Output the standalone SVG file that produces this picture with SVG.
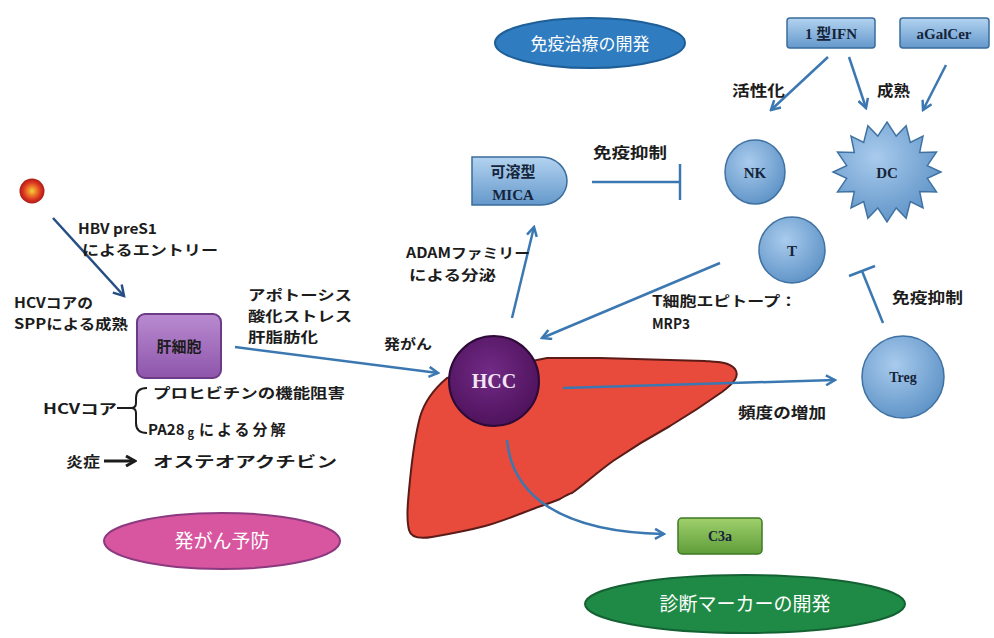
<svg xmlns="http://www.w3.org/2000/svg" width="994" height="638" viewBox="0 0 994 638">
  <style>
    .lbl { font-family: "Noto Sans CJK JP", "Liberation Sans", sans-serif; font-weight: bold; font-size: 14px; fill: #1c1c1c; }
    .ntx { font-family: "Liberation Serif", "Noto Sans CJK JP", serif; font-weight: bold; font-size: 15px; fill: #15243a; text-anchor: middle; }
    .ttl { font-family: "Noto Sans CJK JP", sans-serif; font-size: 18px; fill: #ffffff; text-anchor: middle; }
    .cell { fill: url(#cellGrad); stroke: #3f72a3; stroke-width: 1.5; }
    .box { fill: url(#boxGrad); stroke: #3a6c9c; stroke-width: 1.5; }
    .conn { fill: none; stroke: #3b78b2; stroke-width: 2.5; }
    .dark { fill: none; stroke: #1c1c1c; stroke-width: 2; }
  </style>
  <defs>
    <linearGradient id="boxGrad" x1="0" y1="0" x2="0" y2="1">
      <stop offset="0" stop-color="#b3d3f0"/>
      <stop offset="1" stop-color="#6498cb"/>
    </linearGradient>
    <radialGradient id="cellGrad" cx="0.4" cy="0.35" r="0.7">
      <stop offset="0" stop-color="#a9cbed"/>
      <stop offset="1" stop-color="#5d92c6"/>
    </radialGradient>
    <radialGradient id="hccGrad" cx="0.45" cy="0.4" r="0.65">
      <stop offset="0" stop-color="#722a86"/>
      <stop offset="1" stop-color="#4c1159"/>
    </radialGradient>
    <linearGradient id="hepGrad" x1="0" y1="0" x2="0" y2="1">
      <stop offset="0" stop-color="#b98bd0"/>
      <stop offset="1" stop-color="#8e55ab"/>
    </linearGradient>
    <linearGradient id="c3aGrad" x1="0" y1="0" x2="0" y2="1">
      <stop offset="0" stop-color="#9fd06c"/>
      <stop offset="1" stop-color="#5f9d39"/>
    </linearGradient>
    <radialGradient id="virusGrad" cx="0.5" cy="0.5" r="0.5">
      <stop offset="0" stop-color="#f3d23a"/>
      <stop offset="0.3" stop-color="#ee8a2a"/>
      <stop offset="0.7" stop-color="#dc3422"/>
      <stop offset="1" stop-color="#a81c14"/>
    </radialGradient>
    <marker id="ah" markerWidth="12" markerHeight="12" refX="10" refY="6" orient="auto" markerUnits="userSpaceOnUse">
      <path d="M1,1 L10,6 L1,11" fill="none" stroke="#3b78b2" stroke-width="2.5"/>
    </marker>
    <marker id="ahDark" markerWidth="14" markerHeight="14" refX="11" refY="7" orient="auto" markerUnits="userSpaceOnUse">
      <path d="M1,1 L11,7 L1,13" fill="none" stroke="#264f86" stroke-width="2.5"/>
    </marker>
    <marker id="ahBlack" markerWidth="12" markerHeight="12" refX="10" refY="6" orient="auto" markerUnits="userSpaceOnUse">
      <path d="M1,1 L10,6 L1,11" fill="none" stroke="#1c1c1c" stroke-width="3"/>
    </marker>
  </defs>

  <rect width="994" height="638" fill="#ffffff"/>

  <!-- liver outline sits under the HCC node -->
  <g id="liver">
    <path d="M447,378 C435,388 425,400 420,417 C414,440 412,460 410,480 C408,500 406,518 409,530 C411,538 420,539 432,537 C455,533 470,530 485,526 C500,522 512,517 525,512 C538,507 550,503 560,499 C565,496 568,494 572,493 C580,488 595,474 613,461 C632,448 650,437 670,426 C690,414 708,402 722,392 C734,383 740,376 735,369 C729,362 718,362 705,361 L600,358 L547,358 Z" fill="#e84a3b" stroke="#5a1c18" stroke-width="2"/>
  </g>

  <g id="connectors">
    <!-- virus entry -->
    <line x1="53" y1="218" x2="124" y2="296" stroke="#264f86" stroke-width="2.5" marker-end="url(#ahDark)"/>
    <!-- hepatocyte to HCC -->
    <line x1="235" y1="347" x2="438" y2="373" class="conn" marker-end="url(#ah)"/>
    <!-- HCC to MICA -->
    <line x1="512" y1="318" x2="534" y2="227" class="conn" marker-end="url(#ah)"/>
    <!-- MICA inhibits NK -->
    <line x1="592" y1="182" x2="680" y2="182" class="conn"/>
    <line x1="680" y1="164" x2="680" y2="200" class="conn"/>
    <!-- T to HCC -->
    <line x1="720" y1="263" x2="542" y2="338" class="conn" marker-end="url(#ah)"/>
    <!-- type I IFN / aGalCer activation -->
    <line x1="828" y1="57" x2="771" y2="110" class="conn" marker-end="url(#ah)"/>
    <line x1="849" y1="57" x2="866" y2="108" class="conn" marker-end="url(#ah)"/>
    <line x1="946" y1="65" x2="923" y2="110" class="conn" marker-end="url(#ah)"/>
    <!-- Treg inhibits T -->
    <line x1="883" y1="323" x2="862" y2="271" class="conn"/>
    <line x1="849" y1="276" x2="875" y2="266" class="conn"/>
    <!-- HCC to Treg -->
    <line x1="563" y1="388" x2="835" y2="380" class="conn" marker-end="url(#ah)"/>
    <!-- HCC to C3a -->
    <path d="M507,440 C512,495 560,532 664,534" class="conn" marker-end="url(#ah)"/>
    <!-- HCV core brace -->
    <line x1="117" y1="408" x2="132" y2="408" class="dark"/>
    <path d="M147,388 Q136,388 136,398 L136,403 Q136,408 131,408 Q136,408 136,413 L136,423 Q136,433 147,433" class="dark"/>
    <!-- inflammation arrow -->
    <line x1="104" y1="461" x2="135" y2="461" stroke="#1c1c1c" stroke-width="3" marker-end="url(#ahBlack)"/>
  </g>

  <g id="virus">
    <circle cx="32" cy="191" r="12.5" fill="url(#virusGrad)"/>
  </g>

  <g id="hepatocyte">
    <rect x="137" y="314" width="84" height="64" rx="8" fill="url(#hepGrad)" stroke="#6c3a86" stroke-width="2"/>
    <text x="179" y="352" class="lbl" text-anchor="middle" fill="#2a1030" style="font-size:15px">肝細胞</text>
  </g>

  <g id="hcc">
    <circle cx="494" cy="381" r="45" fill="url(#hccGrad)" stroke="#2e0a38" stroke-width="2"/>
    <text x="494" y="388" class="ntx" style="font-size:20px;fill:#f2e6f2">HCC</text>
  </g>

  <g id="mica">
    <path d="M472,157 H541 C556,157 567,168 567,181 C567,194 556,205 541,205 H472 Z" class="box"/>
    <text x="513" y="177" class="ntx" style="font-family:'Noto Sans CJK JP',sans-serif">可溶型</text>
    <text x="513" y="200" class="ntx">MICA</text>
  </g>

  <g id="ifn">
    <rect x="787" y="18" width="88" height="30" rx="3" class="box"/>
    <text x="831" y="39" class="ntx">1 型IFN</text>
  </g>

  <g id="agalcer">
    <rect x="900" y="18" width="89" height="30" rx="3" class="box"/>
    <text x="944" y="39" class="ntx">aGalCer</text>
  </g>

  <g id="nk">
    <ellipse cx="755" cy="172" rx="30" ry="32" class="cell"/>
    <text x="755" y="178" class="ntx">NK</text>
  </g>

  <g id="dc">
    <polygon class="cell" points="887.0,122.0 896.2,136.1 906.1,125.8 910.3,142.5 923.0,136.1 919.7,152.4 936.5,152.1 927.3,165.6 941.0,172.0 927.3,178.4 936.5,191.9 919.7,191.6 923.0,207.9 910.3,201.5 906.1,218.2 896.2,207.9 887.0,222.0 877.8,207.9 867.9,218.2 863.7,201.5 851.0,207.9 854.3,191.6 837.5,191.9 846.7,178.4 833.0,172.0 846.7,165.6 837.5,152.1 854.3,152.4 851.0,136.1 863.7,142.5 867.9,125.8 877.8,136.1"/>
    <text x="887" y="178" class="ntx">DC</text>
  </g>

  <g id="t-cell">
    <circle cx="792" cy="250" r="33" class="cell"/>
    <text x="792" y="256" class="ntx">T</text>
  </g>

  <g id="treg">
    <circle cx="903" cy="377" r="41" class="cell"/>
    <text x="903" y="382" class="ntx" style="font-size:14px">Treg</text>
  </g>

  <g id="c3a">
    <rect x="678" y="518" width="84" height="36" rx="4" fill="url(#c3aGrad)" stroke="#3e7a24" stroke-width="1.5"/>
    <text x="720" y="541" class="ntx" style="font-size:14px">C3a</text>
  </g>

  <g id="immunotherapy">
    <ellipse cx="590" cy="43" rx="95" ry="25" fill="#2f7cc0" stroke="#1f5f98" stroke-width="2"/>
    <text x="590" y="50" class="ttl" style="font-size:17px">免疫治療の開発</text>
  </g>

  <g id="prevention">
    <ellipse cx="222" cy="541" rx="118" ry="28" fill="#d8559f" stroke="#8c3a80" stroke-width="2"/>
    <text x="222" y="548" class="ttl" style="font-size:19px">発がん予防</text>
  </g>

  <g id="diagnosis">
    <ellipse cx="745" cy="604" rx="160" ry="29" fill="#1f8a45" stroke="#146233" stroke-width="2"/>
    <text x="745" y="611" class="ttl" style="font-size:19px">診断マーカーの開発</text>
  </g>

  <g id="labels">
    <text x="78" y="234" class="lbl" textLength="79" lengthAdjust="spacingAndGlyphs">HBV preS1</text>
    <text x="82" y="255" class="lbl" textLength="136" lengthAdjust="spacingAndGlyphs">によるエントリー</text>
    <text x="14" y="308" class="lbl" textLength="79" lengthAdjust="spacingAndGlyphs">HCVコアの</text>
    <text x="14" y="329" class="lbl" textLength="114" lengthAdjust="spacingAndGlyphs">SPPによる成熟</text>
    <text x="248" y="300" class="lbl" textLength="104" lengthAdjust="spacingAndGlyphs">アポトーシス</text>
    <text x="248" y="321" class="lbl" textLength="104" lengthAdjust="spacingAndGlyphs">酸化ストレス</text>
    <text x="248" y="342" class="lbl" textLength="70" lengthAdjust="spacingAndGlyphs">肝脂肪化</text>
    <text x="384" y="349" class="lbl" textLength="48" lengthAdjust="spacingAndGlyphs">発がん</text>
    <text x="43" y="414" class="lbl" textLength="74" lengthAdjust="spacingAndGlyphs">HCVコア</text>
    <text x="153" y="398" class="lbl" textLength="192" lengthAdjust="spacingAndGlyphs">プロヒビチンの機能阻害</text>
    <text x="148" y="435" class="lbl" style="font-size:15px">PA28<tspan dx="3" dy="2" style="font-size:11px">g</tspan><tspan dx="5" dy="-2" letter-spacing="3">による分解</tspan></text>
    <text x="66" y="467" class="lbl" style="font-size:15px" textLength="34" lengthAdjust="spacingAndGlyphs">炎症</text>
    <text x="153" y="467" class="lbl" style="font-size:15px" textLength="184" lengthAdjust="spacingAndGlyphs">オステオアクチビン</text>
    <text x="732" y="96" class="lbl" style="font-size:15px" textLength="53" lengthAdjust="spacingAndGlyphs">活性化</text>
    <text x="877" y="96" class="lbl" style="font-size:15px" textLength="33" lengthAdjust="spacingAndGlyphs">成熟</text>
    <text x="593" y="158" class="lbl" style="font-size:15px" textLength="74" lengthAdjust="spacingAndGlyphs">免疫抑制</text>
    <text x="406" y="258" class="lbl" textLength="124" lengthAdjust="spacingAndGlyphs">ADAMファミリー</text>
    <text x="409" y="280" class="lbl" textLength="87" lengthAdjust="spacingAndGlyphs">による分泌</text>
    <text x="652" y="306" class="lbl" textLength="145" lengthAdjust="spacingAndGlyphs">T細胞エピトープ：</text>
    <text x="652" y="329" class="lbl" textLength="38" lengthAdjust="spacingAndGlyphs">MRP3</text>
    <text x="738" y="418" class="lbl" style="font-size:15px" textLength="88" lengthAdjust="spacingAndGlyphs">頻度の増加</text>
    <text x="892" y="303" class="lbl" style="font-size:15px" textLength="71" lengthAdjust="spacingAndGlyphs">免疫抑制</text>
  </g>
</svg>
